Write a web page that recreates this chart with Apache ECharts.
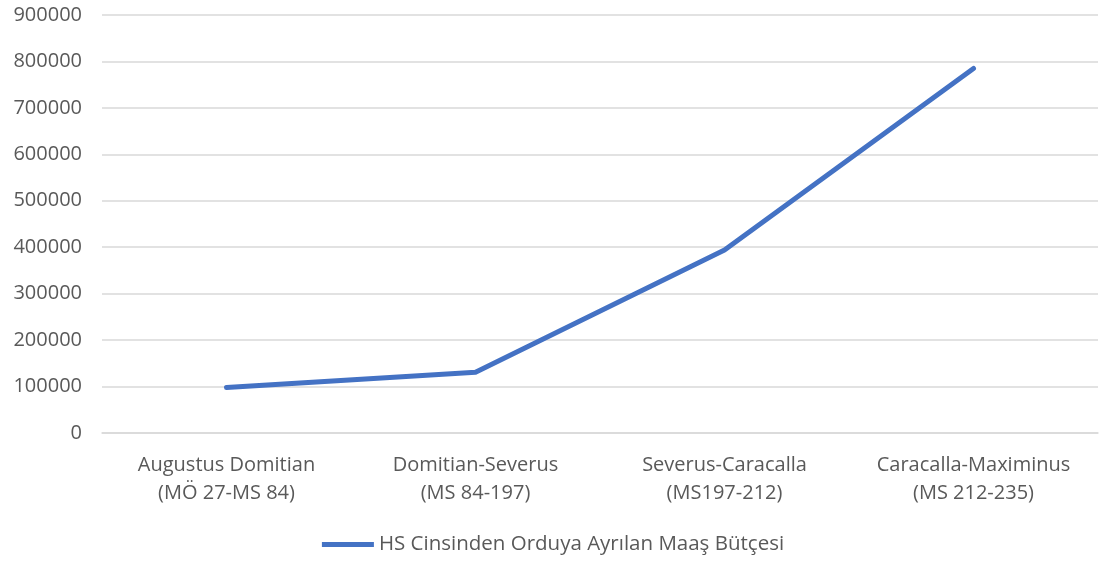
<!DOCTYPE html>
<html><head><meta charset="utf-8">
<script src="https://cdn.jsdelivr.net/npm/echarts@6/dist/echarts.min.js"></script>
<style>html,body{margin:0;padding:0;background:#fff}#c{width:1106px;height:561px}</style>
</head><body><div id="c"></div>
<script>
const categories = ['Augustus Domitian\n(MÖ 27-MS 84)', 'Domitian-Severus\n(MS 84-197)', 'Severus-Caracalla\n(MS197-212)', 'Caracalla-Maximinus\n(MS 212-235)'];
const seriesName = 'HS Cinsinden Orduya Ayrılan Maaş Bütçesi';
const values = [98000, 131000, 394000, 785000];
const yMin = 0, yMax = 900000, yStep = 100000;

const chart = echarts.init(document.getElementById('c'), null, {renderer: 'canvas'});
const font = 'Open Sans';
chart.setOption({
  animation: false,
  grid: {left: 102, right: 8, top: 15, bottom: 128},
  xAxis: {
    type: 'category', data: categories, boundaryGap: true,
    axisLine: {show: true, lineStyle: {color: '#d9d9d9', width: 1.5}},
    axisTick: {show: false},
    axisLabel: {color: '#595959', fontSize: 20, fontFamily: font, lineHeight: 28, margin: 18, interval: 0}
  },
  yAxis: {
    type: 'value', min: yMin, max: yMax, interval: yStep,
    axisLine: {show: false}, axisTick: {show: false},
    splitLine: {lineStyle: {color: '#d9d9d9', width: 1.5}},
    axisLabel: {color: '#595959', fontSize: 20, fontFamily: font, margin: 20, formatter: v => String(v)}
  },
  legend: {
    bottom: 1, left: 'center', itemWidth: 52, itemHeight: 5, itemGap: 10,
    textStyle: {color: '#595959', fontSize: 20.5, fontFamily: font},
    data: [{name: seriesName, icon: 'path://M0,0 L52,0 L52,5 L0,5 Z'}]
  },
  series: [{
    name: seriesName, type: 'line', data: values,
    symbol: 'none', lineStyle: {color: '#4472C4', width: 5, cap: 'round', join: 'round'},
    itemStyle: {color: '#4472C4'}
  }]
});
</script></body></html>
